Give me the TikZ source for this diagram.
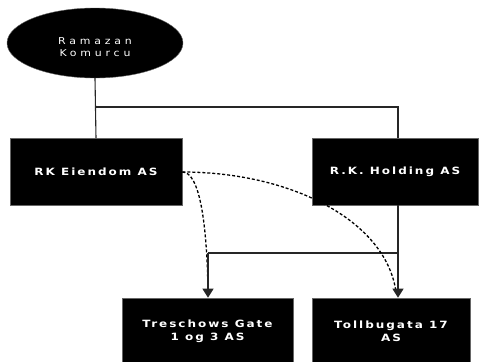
\documentclass[tikz,border=0pt]{standalone}
\usepackage{fontspec}
\setmainfont{DejaVu Sans}
\newfontfamily\boxfont[LetterSpace=20,FakeStretch=1.2]{DejaVu Sans Bold}
\newfontfamily\ellfont[LetterSpace=40,FakeStretch=1.15]{DejaVu Sans}
\usetikzlibrary{shapes.geometric,arrows.meta}
\begin{document}
\begin{tikzpicture}[x=1pt,y=-1pt,
  entity/.style={draw=black!60,line width=0.6pt,fill=black,text=white,minimum width=#1,minimum height=67pt,inner sep=0pt,align=center,font=\boxfont\fontsize{10}{13}\selectfont},
  person/.style={ellipse,draw=black!60,fill=black,minimum width=176pt,minimum height=70pt,inner sep=0pt},
  ptext/.style={text=white,align=center,font=\ellfont\fontsize{9.5}{12.5}\selectfont},
  link/.style={line width=1.1pt,black!85},
  arr/.style={link,-{Triangle[width=11pt,length=9pt]}},
  own/.style={black,line width=1.3pt,dashed,dash pattern=on 3pt off 2pt}]
\useasboundingbox (0,0) rectangle (480,362);
\node[person] (rk) at (95,43) {};
\node[ptext] (rkt) at (95,47) {Ramazan\\Komurcu};
\node[entity=172pt] (eie) at (96,172) {RK Eiendom AS};
\node[entity=166pt] (hold) at (395,171.5) {R.K. Holding AS};
\node[entity=171pt,minimum height=66pt] (tre) at (207.5,331) {Treschows Gate\\1 og 3 AS};
\node[entity=158pt,minimum height=66pt] (tol) at (391,331) {Tollbugata 17\\AS};
\coordinate (j1) at (96,107);
\coordinate (j2) at (398,107);
\coordinate (j3) at (398,253);
\coordinate (j4) at (208,253);
\draw[link] (rk.south) -- (eie.north);
\draw[link] (j1) -- (j2) -- (hold.north -| j2);
\draw[link] (hold.south -| j3) -- (j3) -- (j4);
\draw[own] (eie.east) .. controls (200,172) and (207,225) .. (208,292);
\draw[own] (eie.east) .. controls (290,172) and (386,220) .. (396,292);
\draw[arr] (j4) -- (tre.north -| j4);
\draw[arr] (j3) -- (tol.north -| j3);
\end{tikzpicture}
\end{document}
